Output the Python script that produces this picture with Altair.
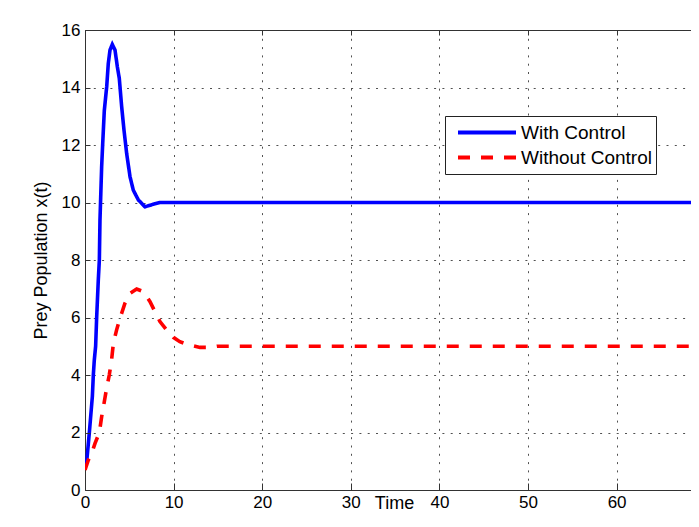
import altair as alt
import pandas as pd

# ---- data ----
t_with = [0, 0.19, 0.49, 0.83, 0.94, 1.05, 1.2, 1.32, 1.5, 1.62, 1.69, 1.88, 2.0, 2.18, 2.45,
          2.63, 2.82, 3.08, 3.39, 3.65, 3.87, 4.14, 4.4, 4.7, 5.08, 5.45, 6.02, 6.77, 7.71,
          8.47, 10, 15, 20, 30, 40, 50, 60, 70]
x_with = [0.87, 0.98, 2.0, 3.25, 4.0, 4.52, 5.0, 6.03, 7.3, 8.0, 9.39, 11.25, 12.06, 13.2, 14.03,
          14.84, 15.3, 15.5, 15.3, 14.72, 14.32, 13.33, 12.52, 11.71, 10.9, 10.43, 10.09, 9.85, 9.94,
          10.0, 10.0, 10.0, 10.0, 10.0, 10.0, 10.0, 10.0, 10.0]

t_without = [0, 0.37, 0.76, 1.13, 1.62, 1.88, 2.14, 2.44, 2.74, 3.0, 3.2, 3.57, 3.95, 4.51,
             5.08, 5.83, 6.58, 7.34, 7.9, 8.46, 9.2, 9.97, 10.7, 11.48, 12.98, 14.1, 14.9,
             20, 30, 40, 50, 60, 70]
x_without = [0.7, 1.04, 1.28, 1.62, 2.0, 2.55, 3.0, 3.54, 4.0, 4.52, 5.1, 5.57, 5.97, 6.5,
             6.84, 6.99, 6.9, 6.55, 6.2, 5.86, 5.57, 5.31, 5.16, 5.07, 4.96, 4.96, 5.0,
             5.0, 5.0, 5.0, 5.0, 5.0, 5.0]

series_names = ["With Control", "Without Control"]
series_colors = ["#0000FF", "#FF0000"]
x_ticks = [0, 10, 20, 30, 40, 50, 60]
y_ticks = [0, 2, 4, 6, 8, 10, 12, 14, 16]
x_domain = [0, 68.4]   # visible part of the time axis (the original is cropped on the right)
y_domain = [0, 16]

df = pd.concat([
    pd.DataFrame({"t": t_with, "x": x_with, "series": series_names[0]}),
    pd.DataFrame({"t": t_without, "x": x_without, "series": series_names[1]}),
])

FONT = "Liberation Sans"
xscale = alt.Scale(domain=x_domain, nice=False, zero=False)
yscale = alt.Scale(domain=y_domain, nice=False, zero=False)

base = alt.Chart(df)

lines = base.mark_line(strokeWidth=3.6, clip=True).encode(
    x=alt.X("t:Q", scale=xscale, axis=alt.Axis(
        orient="bottom", title="Time", values=x_ticks, grid=True, ticks=False, tickSize=0,
        domain=False, labels=True, labelFlush=False, labelPadding=4, labelFontSize=17,
        titleFontSize=18, titleX=309, titleY=18, titleAlign="center",
        titleBaseline="alphabetic")),
    y=alt.Y("x:Q", scale=yscale, axis=alt.Axis(
        orient="left", title="Prey Population x(t)", values=y_ticks, grid=True, ticks=False,
        tickSize=0, domain=False, labelPadding=5, labelFontSize=17, titleFontSize=18,
        titleAngle=270, titleX=-39, titleY=230, titleAlign="center",
        titleBaseline="alphabetic")),
    color=alt.Color("series:N", scale=alt.Scale(domain=series_names, range=series_colors),
                    legend=alt.Legend(
                        title=None, orient="none", legendX=360, legendY=86,
                        symbolType="stroke", symbolSize=3364, symbolStrokeWidth=4,
                        clipHeight=25, rowPadding=0, padding=4, symbolOffset=7,
                        labelOffset=3, labelFontSize=19, labelLimit=300,
                        strokeColor="#222222", fillColor="white")),
    strokeDash=alt.StrokeDash("series:N", scale=alt.Scale(domain=series_names,
                                                          range=[[1, 0], [12, 11]]),
                              legend=alt.Legend(title=None, orient="none", legendX=360,
                                                legendY=86)),
)

inner_ticks = base.mark_line(strokeOpacity=0).encode(
    x=alt.X("t:Q", scale=xscale, axis=alt.Axis(
        orient="bottom", offset=-7, values=x_ticks, ticks=True, tickSize=7, labels=False,
        domain=False, grid=False, title=None, zindex=1)),
    y=alt.Y("x:Q", scale=yscale, axis=alt.Axis(
        orient="left", offset=-5, values=y_ticks, ticks=True, tickSize=5, labels=False,
        domain=False, grid=False, title=None, zindex=1)),
    detail="series:N",
)

top_ticks = base.mark_line(strokeOpacity=0).encode(
    x=alt.X("t:Q", scale=xscale, axis=alt.Axis(
        orient="top", offset=-5, values=x_ticks, ticks=True, tickSize=5, labels=False,
        domain=False, grid=False, title=None, zindex=1)),
    y=alt.Y("x:Q", scale=yscale, axis=None),
    detail="series:N",
)

chart = alt.layer(lines, inner_ticks, top_ticks).resolve_axis(
    x="independent", y="independent"
).properties(
    width=606, height=460,
    autosize=alt.AutoSizeParams(type="none"),
    padding={"left": 77, "top": 22, "right": 0, "bottom": 23},
    background="white",
).configure(
    font=FONT,
).configure_view(
    stroke="#333333", strokeWidth=1, fill="white",
).configure_axis(
    labelColor="black", titleColor="black", titleFontWeight="normal",
    gridColor="#333333", gridDash=[2, 6.3], gridWidth=1, gridOpacity=0.85,
    tickColor="#333333", tickWidth=1,
    labelFont=FONT, titleFont=FONT,
).configure_legend(
    labelFont=FONT, labelColor="black",
)

chart.save("out.html", embed_options={"renderer": "svg", "actions": False})
